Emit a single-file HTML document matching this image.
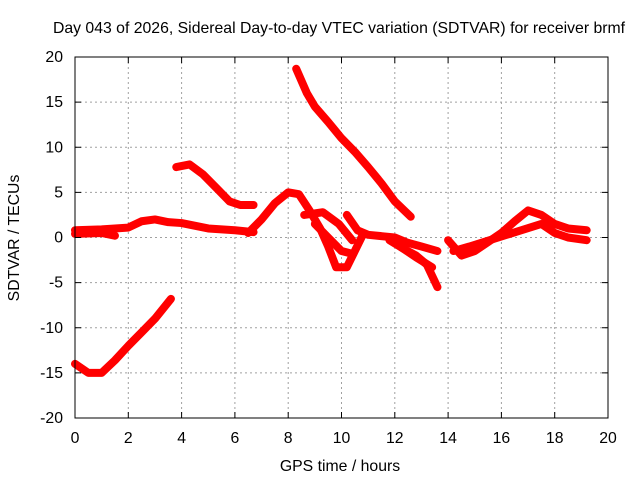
<!DOCTYPE html>
<html><head><meta charset="utf-8"><style>
body{margin:0;background:#fff}
svg text{font-family:"Liberation Sans",sans-serif;font-size:15.8px;fill:#000}
</style></head><body>
<svg id="chart" width="640" height="480">
<text x="339" y="33" text-anchor="middle">Day 043 of 2026, Sidereal Day-to-day VTEC variation (SDTVAR) for receiver brmf</text>
<g id="grid"></g>
<g id="series"></g>
<rect x="75" y="57" width="533" height="361" fill="none" stroke="#000"/>
<g id="ticks"></g>
<text x="340" y="471" text-anchor="middle">GPS time / hours</text>
<text transform="translate(19,238) rotate(-90)" text-anchor="middle">SDTVAR / TECUs</text>
</svg>
<script>
const xTicks=[0,2,4,6,8,10,12,14,16,18,20];
const yTicks=[-20,-15,-10,-5,0,5,10,15,20];
const trackBaseline=[[0,0.8],[1,0.9],[2,1.1],[2.5,1.8],[3,2],[3.5,1.7],[4,1.6],[5,1],[6,0.8],[6.7,0.6]];
const trackBaseline2=[[0,0.4],[1,0.5],[1.5,0.2]];
const trackLowLeft=[[0,-14],[0.5,-15],[1,-15],[1.5,-13.6],[2,-12],[2.5,-10.5],[3,-9],[3.6,-6.8]];
const trackUpper=[[3.8,7.8],[4.3,8.1],[4.8,7],[5.3,5.5],[5.8,4],[6.2,3.6],[6.7,3.6]];
const trackHump=[[6.5,0.5],[7,2],[7.5,3.8],[8,5],[8.4,4.8],[8.8,3],[9.2,1],[9.5,-1],[9.8,-3.3],[10.2,-3.3],[10.5,-1.5],[10.8,0.3]];
const trackHumpB=[[8.6,2.5],[9.3,2.8],[9.9,1.5],[10.4,-0.3]];
const trackHumpC=[[9,1.5],[9.5,0],[10,-1.5],[10.4,-1.8]];
const trackMid=[[10.2,2.5],[10.6,0.8],[11,0.3],[12,0],[12.5,-0.6],[13,-1],[13.6,-1.5]];
const trackSteep=[[8.3,18.7],[8.7,16],[9,14.5],[9.5,12.8],[10,11],[10.5,9.5],[11,7.8],[11.5,6],[12,4],[12.6,2.3]];
const trackDrop=[[11.8,-0.3],[12.3,-1.2],[12.8,-2],[13.2,-3],[13.6,-5.5]];
const trackDrop2=[[12.2,-1],[12.8,-2.2],[13.4,-3.3]];
const trackRight=[[14,-0.3],[14.5,-2],[15,-1.5],[15.5,-0.5],[16,0.5],[16.5,1.8],[17,3],[17.5,2.5],[18,1.5],[18.5,1],[19.2,0.8]];
const trackRight2=[[14.2,-1.5],[14.8,-1],[17.5,1.5],[18,0.5],[18.5,0],[19.2,-0.3]];
const tracks=[trackBaseline,trackBaseline2,trackLowLeft,trackUpper,trackHump,trackHumpB,trackHumpC,trackMid,trackSteep,trackDrop,trackDrop2,trackRight,trackRight2];
const X=h=>75+h*26.65, Y=v=>237.5-v*9.025;
const NS='http://www.w3.org/2000/svg';
const grid=document.getElementById('grid'),ticks=document.getElementById('ticks'),ser=document.getElementById('series');
function mk(tag,attrs,parent){const e=document.createElementNS(NS,tag);for(const k in attrs)e.setAttribute(k,attrs[k]);parent.appendChild(e);return e;}
xTicks.forEach(t=>{const x=X(t);
 if(t>0&&t<20){const l=mk('line',{x1:x,y1:57,x2:x,y2:418,stroke:'#a0a0a0','stroke-dasharray':'2,3'},grid);}
 mk('line',{x1:x,y1:418,x2:x,y2:412,stroke:'#000'},ticks);mk('line',{x1:x,y1:57,x2:x,y2:63,stroke:'#000'},ticks);
 const tx=mk('text',{x:x,y:443,'text-anchor':'middle'},ticks);tx.textContent=t;});
yTicks.forEach(t=>{const y=Y(t);
 if(t>-20&&t<20){const l=mk('line',{x1:75,y1:y,x2:608,y2:y,stroke:'#a0a0a0','stroke-dasharray':'2,3'},grid);}
 mk('line',{x1:75,y1:y,x2:81,y2:y,stroke:'#000'},ticks);mk('line',{x1:602,y1:y,x2:608,y2:y,stroke:'#000'},ticks);
 const tx=mk('text',{x:63,y:y+5,'text-anchor':'end'},ticks);tx.textContent=t;});
tracks.forEach(tr=>{
 const p=mk('polyline',{points:tr.map(d=>X(d[0])+','+Y(d[1])).join(' '),fill:'none',stroke:'#ff0000','stroke-width':8,'stroke-linejoin':'round','stroke-linecap':'round'},ser);
 
 
});
</script>
</body></html>
